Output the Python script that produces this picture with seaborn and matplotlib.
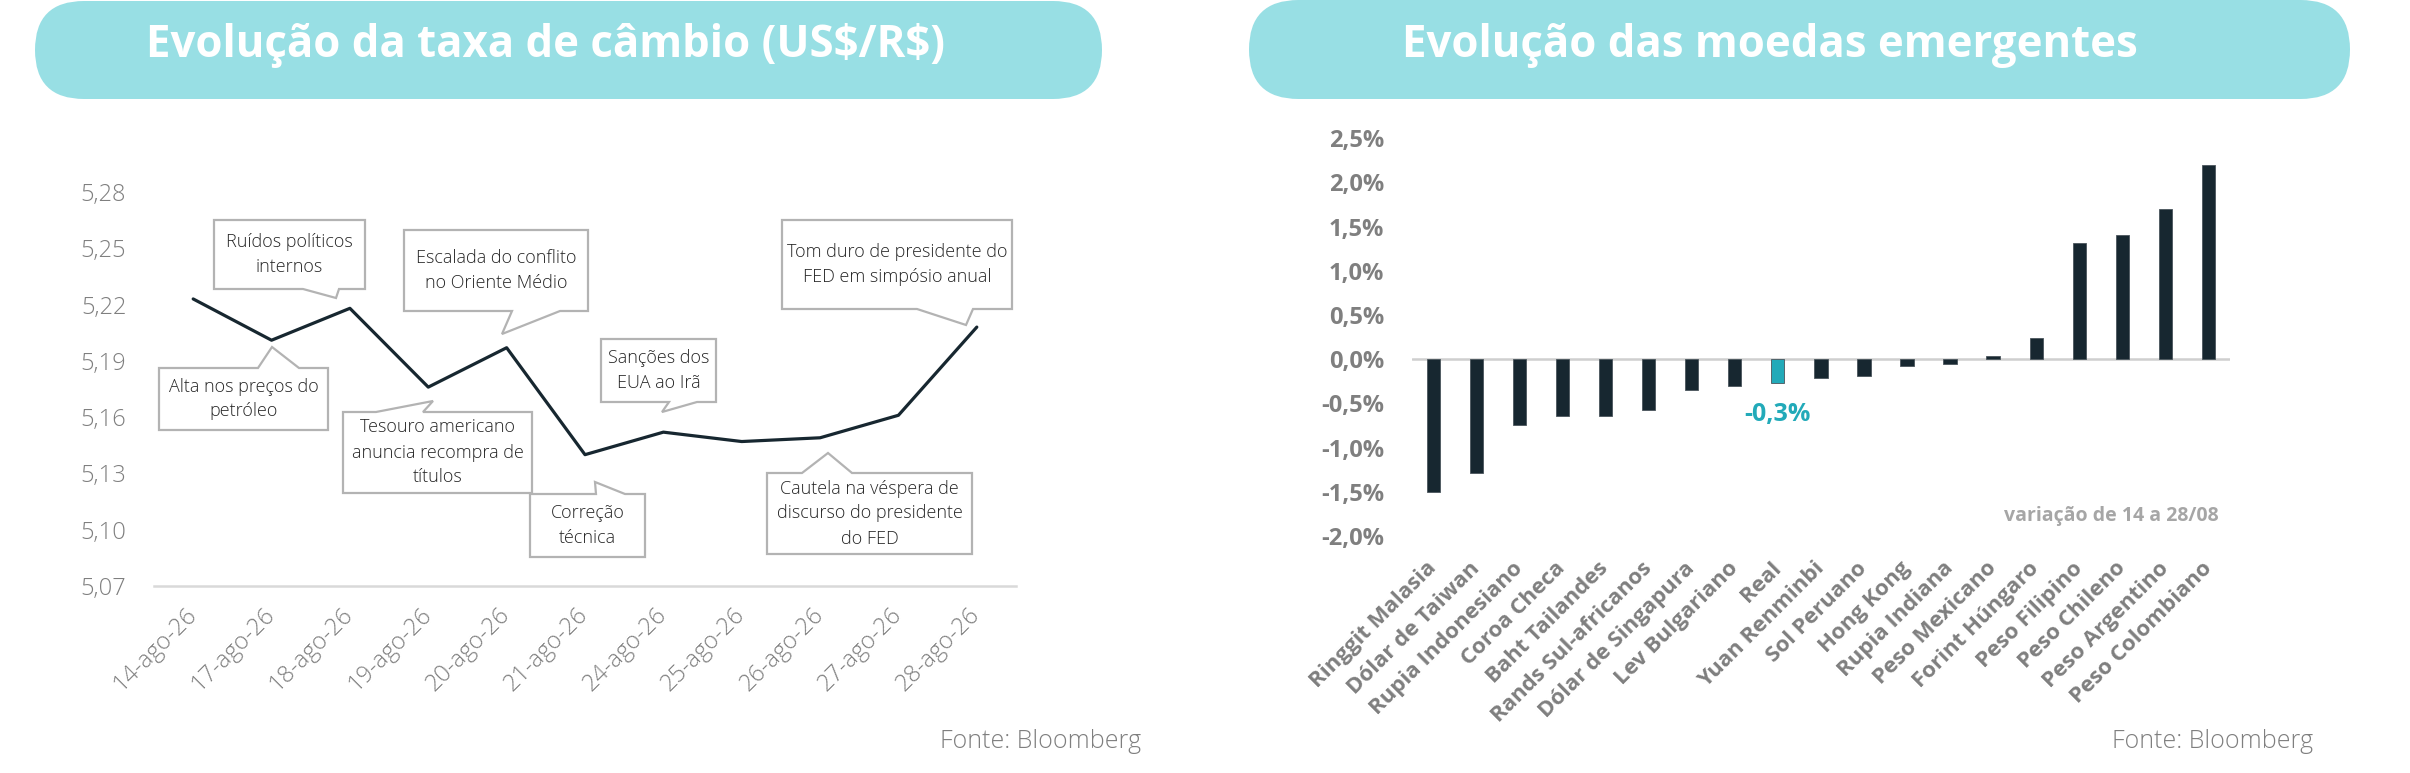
import matplotlib
matplotlib.use("Agg")
import matplotlib.pyplot as plt
import seaborn as sns
import numpy as np
import pandas as pd
from matplotlib.patches import Polygon, FancyBboxPatch

# ---------------- data ----------------
dates = ["14-ago-26", "17-ago-26", "18-ago-26", "19-ago-26", "20-ago-26", "21-ago-26",
         "24-ago-26", "25-ago-26", "26-ago-26", "27-ago-26", "28-ago-26"]
rates = [5.223, 5.201, 5.218, 5.176, 5.197, 5.140, 5.152, 5.147, 5.149, 5.161, 5.208]
rate_ticks = [5.07, 5.10, 5.13, 5.16, 5.19, 5.22, 5.25, 5.28]

currencies = ["Ringgit Malasia", "Dólar de Taiwan", "Rupia Indonesiano", "Coroa Checa",
              "Baht Tailandes", "Rands Sul-africanos", "Dólar de Singapura", "Lev Bulgariano",
              "Real", "Yuan Renminbi", "Sol Peruano", "Hong Kong", "Rupia Indiana",
              "Peso Mexicano", "Forint Húngaro", "Peso Filipino", "Peso Chileno",
              "Peso Argentino", "Peso Colombiano"]
changes = [-1.50, -1.29, -0.74, -0.64, -0.64, -0.57, -0.35, -0.30, -0.27, -0.21, -0.19,
           -0.08, -0.05, 0.04, 0.24, 1.32, 1.41, 1.70, 2.20]
pct_ticks = [-2.0, -1.5, -1.0, -0.5, 0.0, 0.5, 1.0, 1.5, 2.0, 2.5]
highlight = "Real"

title_left = "Evolução da taxa de câmbio (US$/R$)"
title_right = "Evolução das moedas emergentes"
source = "Fonte: Bloomberg"
period_note = "variação de 14 a 28/08"

annotations = [
    "Ruídos políticos\ninternos",
    "Alta nos preços do\npetróleo",
    "Escalada do conflito\nno Oriente Médio",
    "Tesouro americano\nanuncia recompra de\ntítulos",
    "Correção\ntécnica",
    "Sanções dos\nEUA ao Irã",
    "Cautela na véspera de\ndiscurso do presidente\ndo FED",
    "Tom duro de presidente do\nFED em simpósio anual",
]

# ---------------- style ----------------
sns.set_style("white")
plt.rcParams['font.family'] = ['Open Sans', 'DejaVu Sans']

DARK = "#172730"
TEAL = "#22aab9"
PILL = "#98dfe4"
GRAY_TXT = "#7f7f7f"
AXIS_GRAY = "#d9d9d9"
BOX_GRAY = "#b3b3b3"

W, H = 2410, 773
fig = plt.figure(figsize=(W / 100, H / 100), dpi=100)
fig.patch.set_facecolor("white")


def fpos(x0, y0, x1, y1):
    """pixel box (top-left origin) -> figure fraction rect"""
    return [x0 / W, 1 - y1 / H, (x1 - x0) / W, (y1 - y0) / H]


# ---------------- left: line chart ----------------
axL = fig.add_axes(fpos(154, 192, 1016, 586))
dfL = pd.DataFrame({"pos": np.arange(len(dates)), "rate": rates})
sns.lineplot(data=dfL, x="pos", y="rate", ax=axL, color=DARK, linewidth=2.3)
axL.set_xlim(-0.5, len(dates) - 0.5)
axL.set_ylim(rate_ticks[0], rate_ticks[-1])
axL.set_yticks(rate_ticks)
axL.set_yticklabels([f"{t:.2f}".replace(".", ",") for t in rate_ticks],
                    fontsize=17, color=GRAY_TXT, fontweight="light")
axL.set_xticks(np.arange(len(dates)))
axL.set_xticklabels(dates, rotation=45, ha="right", va="center", rotation_mode="anchor",
                    fontsize=17, color=GRAY_TXT, fontweight="light")
axL.set_xticks(np.arange(len(dates) + 1) - 0.5, minor=True)
axL.tick_params(axis="x", which="major", length=0, pad=18)
axL.tick_params(axis="x", which="minor", length=8, width=1.5, color=AXIS_GRAY, direction="out")
axL.tick_params(axis="y", length=0, pad=20)
axL.set_xlabel("")
axL.set_ylabel("")
for s in ["top", "right", "left"]:
    axL.spines[s].set_visible(False)
axL.spines["bottom"].set_color(AXIS_GRAY)
axL.spines["bottom"].set_linewidth(1.8)
axL.set_facecolor("none")

# ---------------- right: bar chart ----------------
axR = fig.add_axes(fpos(1411.7, 138.3, 2230, 536))
dfR = pd.DataFrame({"moeda": currencies, "var": changes})
palette = {c: (TEAL if c == highlight else DARK) for c in currencies}
sns.barplot(data=dfR, x="moeda", y="var", hue="moeda", palette=palette, legend=False,
            width=0.31, ax=axR, saturation=1, edgecolor="#4a555c", linewidth=0.6)
axR.axhline(0, color="#cfcfcf", linewidth=1.8, zorder=0.5)
axR.set_xlim(-0.5, len(currencies) - 0.5)
axR.set_ylim(pct_ticks[0], pct_ticks[-1])
axR.set_yticks(pct_ticks)
axR.set_yticklabels([f"{t:.1f}%".replace(".", ",") for t in pct_ticks],
                    fontsize=17, color=GRAY_TXT, fontweight="bold")
axR.set_xticks(np.arange(len(currencies)))
axR.set_xticklabels(currencies, rotation=45, ha="right", va="center", rotation_mode="anchor",
                    fontsize=16, color=GRAY_TXT, fontweight="bold")
axR.tick_params(axis="x", length=0, pad=21)
axR.tick_params(axis="y", length=0, pad=20)
axR.set_xlabel("")
axR.set_ylabel("")
for s in axR.spines.values():
    s.set_visible(False)
axR.set_facecolor("none")

hi = currencies.index(highlight)
axR.text(hi, -0.62, f"{round(changes[hi], 1):.1f}%".replace(".", ","), color=TEAL,
         fontsize=18, fontweight="bold", ha="center", va="center")

# ---------------- overlay (pixel coordinates) ----------------
ov = fig.add_axes([0, 0, 1, 1], zorder=10)
ov.set_xlim(0, W)
ov.set_ylim(H, 0)
ov.axis("off")
ov.set_facecolor("none")

# title pills
for (x0, y0, x1, y1), title, cx in [((35, 1, 1102, 99), title_left, 546),
                                     ((1249, 0, 2350, 99), title_right, 1770)]:
    r = (y1 - y0) / 2
    ov.add_patch(FancyBboxPatch((x0, y0), (x1 - x0), y1 - y0,
                                boxstyle=f"round,pad=0,rounding_size={r}",
                                facecolor=PILL, edgecolor="none"))
    ov.text(cx, 46, title, color="white", fontsize=31.5, fontweight="bold",
            ha="center", va="center", parse_math=False)


def callout(text, box, side, b1, tip, b2):
    x0, y0, x1, y1 = box
    if side == "top":
        pts = [(x0, y0), (b1, y0), tip, (b2, y0), (x1, y0), (x1, y1), (x0, y1)]
    else:
        pts = [(x0, y0), (x1, y0), (x1, y1), (b2, y1), tip, (b1, y1), (x0, y1)]
    ov.add_patch(Polygon(pts, closed=True, facecolor="white", edgecolor=BOX_GRAY,
                         linewidth=1.6, joinstyle="miter"))
    ov.text((x0 + x1) / 2, (y0 + y1) / 2, text, ha="center", va="center",
            fontsize=13, color="#262626", linespacing=1.5, fontweight="light")


callout(annotations[0], (214, 220, 365, 289), "bottom", 303, (336, 298), 339)
callout(annotations[1], (159, 368, 328, 430), "top", 258, (272, 347), 299)
callout(annotations[2], (404, 230, 588, 311), "bottom", 512, (502, 334), 560)
callout(annotations[3], (343, 412, 532, 493), "top", 376, (433, 401), 423)
callout(annotations[4], (530, 494, 645, 557), "top", 596, (595, 482), 625)
callout(annotations[5], (601, 339, 716, 402), "bottom", 669, (662, 412), 697)
callout(annotations[6], (767, 473, 972, 554), "top", 802, (828, 453), 852)
callout(annotations[7], (782, 220, 1012, 309), "bottom", 917, (966, 325), 973)

# notes
ov.text(2219, 516, period_note, ha="right", va="center", fontsize=14,
        color="#a6a6a6", fontweight="bold")
ov.text(1141, 742, source, ha="right", va="center", fontsize=18, color=GRAY_TXT,
        fontweight="light")
ov.text(2313, 742, source, ha="right", va="center", fontsize=18, color=GRAY_TXT,
        fontweight="light")

fig.savefig("out.png", dpi=100, facecolor="white")
